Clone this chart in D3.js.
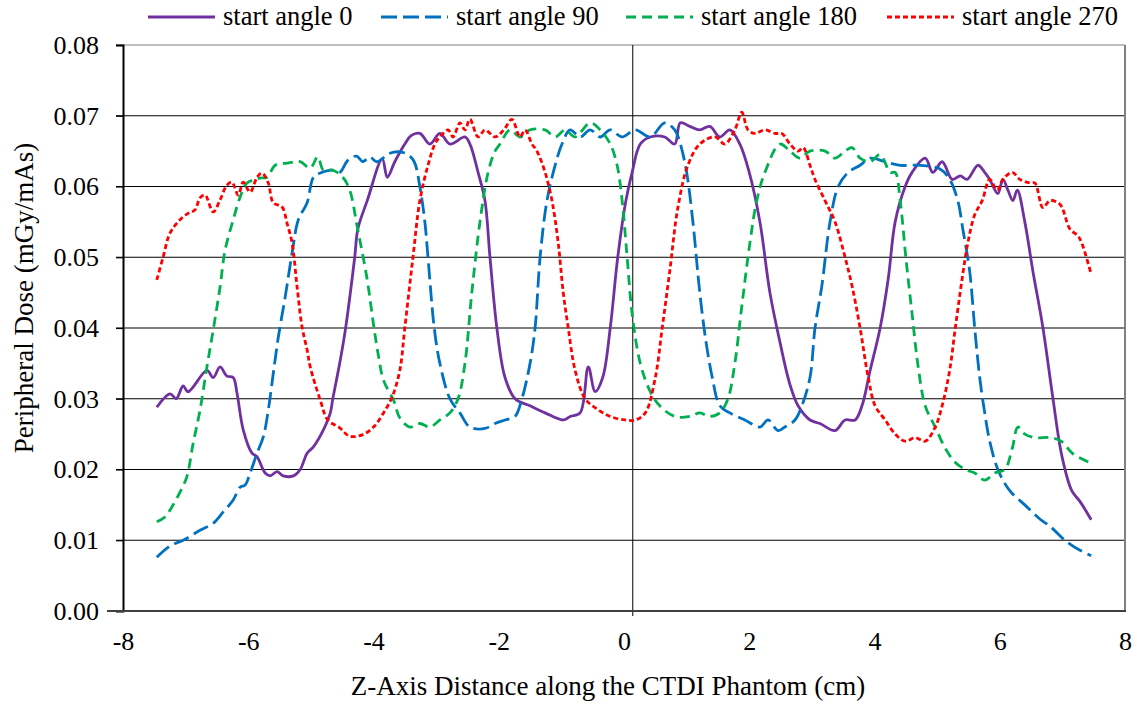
<!DOCTYPE html>
<html><head><meta charset="utf-8">
<script src="https://cdn.jsdelivr.net/npm/d3@7"></script>
<style>
html,body{margin:0;padding:0;background:#fff;}
</style></head>
<body><svg id="c" width="1136" height="704"></svg>
<script>
// ---- data ----
const seriesNames = ["start angle 0", "start angle 90", "start angle 180", "start angle 270"];
const yTicks = [0, 0.01, 0.02, 0.03, 0.04, 0.05, 0.06, 0.07, 0.08];
const xTicks = [-8, -6, -4, -2, 0, 2, 4, 6, 8];

const angle0 = [[-7.46,0.0288],[-7.25,0.0307],[-7.15,0.030],[-7.04,0.0318],[-6.96,0.031],[-6.66,0.034],[-6.56,0.033],[-6.45,0.0345],[-6.34,0.0332],[-6.24,0.033],[-6.18,0.0308],[-6.08,0.0256],[-5.94,0.0223],[-5.86,0.0218],[-5.73,0.0195],[-5.65,0.0191],[-5.54,0.0197],[-5.44,0.0191],[-5.28,0.0191],[-5.17,0.020],[-5.06,0.0223],[-4.96,0.0232],[-4.8,0.0256],[-4.69,0.028],[-4.65,0.030],[-4.54,0.035],[-4.45,0.0397],[-4.3,0.050],[-4.25,0.054],[-4.1,0.058],[-3.86,0.0639],[-3.78,0.0613],[-3.66,0.0635],[-3.5,0.066],[-3.4,0.0672],[-3.26,0.0675],[-3.1,0.066],[-2.94,0.0675],[-2.78,0.066],[-2.54,0.067],[-2.46,0.066],[-2.33,0.062],[-2.22,0.058],[-2.14,0.050],[-2.03,0.040],[-1.9,0.033],[-1.74,0.030],[-1.5,0.029],[-1.26,0.028],[-0.97,0.027],[-0.86,0.0275],[-0.7,0.028],[-0.57,0.0345],[-0.46,0.031],[-0.34,0.033],[-0.22,0.040],[-0.1,0.050],[0.03,0.058],[0.13,0.062],[0.26,0.066],[0.42,0.067],[0.65,0.067],[0.81,0.066],[0.9,0.069],[1.05,0.0685],[1.21,0.068],[1.37,0.0685],[1.53,0.067],[1.69,0.068],[1.85,0.066],[2.0,0.062],[2.17,0.055],[2.33,0.045],[2.49,0.038],[2.65,0.032],[2.78,0.029],[2.97,0.027],[3.13,0.0265],[3.37,0.0255],[3.53,0.027],[3.69,0.027],[3.8,0.029],[3.93,0.034],[4.09,0.040],[4.22,0.047],[4.33,0.055],[4.49,0.060],[4.6,0.062],[4.81,0.064],[4.93,0.062],[5.08,0.0635],[5.24,0.061],[5.37,0.0615],[5.48,0.061],[5.65,0.063],[5.76,0.062],[5.84,0.061],[5.97,0.059],[6.05,0.061],[6.13,0.0595],[6.21,0.058],[6.28,0.0595],[6.4,0.055],[6.53,0.048],[6.69,0.040],[6.85,0.030],[6.99,0.022],[7.15,0.017],[7.28,0.0155],[7.46,0.0129]];

const angle90 = [[-7.46,0.0076],[-7.25,0.0092],[-7.04,0.010],[-6.77,0.0114],[-6.56,0.0124],[-6.4,0.014],[-6.24,0.0157],[-6.13,0.0175],[-6.05,0.0178],[-5.97,0.0195],[-5.86,0.0223],[-5.76,0.0246],[-5.68,0.0284],[-5.6,0.0336],[-5.52,0.0387],[-5.41,0.0444],[-5.3,0.0506],[-5.2,0.0553],[-5.06,0.0577],[-4.96,0.0613],[-4.85,0.0619],[-4.65,0.0623],[-4.54,0.062],[-4.41,0.0637],[-4.27,0.0643],[-4.17,0.0635],[-4.06,0.0642],[-3.95,0.0635],[-3.74,0.0647],[-3.58,0.0649],[-3.45,0.0645],[-3.35,0.0635],[-3.26,0.060],[-3.18,0.055],[-3.13,0.050],[-3.03,0.040],[-2.94,0.035],[-2.78,0.030],[-2.62,0.028],[-2.46,0.026],[-2.22,0.0258],[-2.06,0.0265],[-1.9,0.027],[-1.74,0.0275],[-1.63,0.030],[-1.5,0.035],[-1.42,0.040],[-1.34,0.050],[-1.23,0.058],[-1.1,0.063],[-0.99,0.066],[-0.86,0.068],[-0.7,0.067],[-0.54,0.068],[-0.38,0.067],[-0.22,0.068],[-0.03,0.067],[0.18,0.068],[0.42,0.067],[0.65,0.069],[0.81,0.068],[0.9,0.066],[1.0,0.062],[1.1,0.055],[1.21,0.045],[1.31,0.038],[1.41,0.033],[1.53,0.029],[1.69,0.028],[1.93,0.027],[2.17,0.026],[2.3,0.027],[2.46,0.0255],[2.57,0.026],[2.73,0.027],[2.84,0.029],[2.97,0.033],[3.05,0.040],[3.16,0.046],[3.29,0.055],[3.42,0.060],[3.58,0.062],[3.77,0.063],[3.93,0.064],[4.17,0.0635],[4.41,0.063],[4.73,0.063],[5.04,0.0625],[5.2,0.061],[5.33,0.058],[5.41,0.054],[5.52,0.048],[5.6,0.040],[5.68,0.033],[5.76,0.028],[5.84,0.024],[5.97,0.020],[6.16,0.017],[6.4,0.015],[6.64,0.013],[6.8,0.012],[7.04,0.010],[7.2,0.009],[7.46,0.0078]];

const angle180 = [[-7.46,0.0126],[-7.33,0.0133],[-7.22,0.0147],[-7.09,0.0168],[-6.98,0.019],[-6.88,0.0237],[-6.77,0.0284],[-6.66,0.0345],[-6.56,0.0397],[-6.45,0.0458],[-6.37,0.051],[-6.24,0.0553],[-6.13,0.0585],[-6.02,0.0605],[-5.92,0.0609],[-5.81,0.0612],[-5.7,0.0613],[-5.57,0.063],[-5.38,0.0633],[-5.17,0.0635],[-5.01,0.0626],[-4.89,0.0642],[-4.8,0.0623],[-4.65,0.0623],[-4.49,0.0613],[-4.38,0.0595],[-4.26,0.0543],[-4.1,0.0468],[-4.0,0.0405],[-3.92,0.036],[-3.84,0.0326],[-3.68,0.0298],[-3.58,0.0273],[-3.42,0.026],[-3.26,0.0265],[-3.1,0.026],[-2.94,0.027],[-2.78,0.028],[-2.65,0.030],[-2.54,0.035],[-2.43,0.045],[-2.3,0.055],[-2.17,0.062],[-2.06,0.065],[-1.98,0.066],[-1.82,0.068],[-1.66,0.067],[-1.5,0.068],[-1.26,0.068],[-1.1,0.067],[-0.94,0.068],[-0.78,0.067],[-0.54,0.069],[-0.38,0.068],[-0.22,0.066],[-0.11,0.063],[-0.03,0.058],[0.05,0.050],[0.13,0.042],[0.26,0.035],[0.42,0.031],[0.57,0.029],[0.81,0.0275],[1.05,0.0275],[1.21,0.028],[1.37,0.0275],[1.53,0.028],[1.66,0.030],[1.77,0.035],[1.88,0.043],[2.01,0.052],[2.12,0.058],[2.25,0.062],[2.49,0.066],[2.65,0.065],[2.81,0.064],[2.97,0.065],[3.21,0.065],[3.37,0.064],[3.53,0.065],[3.64,0.0655],[3.77,0.064],[3.93,0.0635],[4.09,0.0645],[4.25,0.062],[4.33,0.062],[4.41,0.058],[4.5,0.050],[4.6,0.042],[4.69,0.035],[4.81,0.029],[4.97,0.026],[5.13,0.023],[5.29,0.021],[5.45,0.020],[5.6,0.0195],[5.76,0.0185],[5.92,0.0195],[6.08,0.020],[6.2,0.023],[6.29,0.026],[6.4,0.025],[6.56,0.0245],[6.8,0.0245],[6.98,0.024],[7.17,0.0222],[7.46,0.0209]];

const angle270 = [[-7.46,0.0468],[-7.36,0.050],[-7.25,0.0534],[-7.09,0.0553],[-6.96,0.0562],[-6.85,0.0567],[-6.77,0.0584],[-6.69,0.0588],[-6.56,0.0564],[-6.45,0.0581],[-6.34,0.0602],[-6.26,0.0606],[-6.16,0.0588],[-6.08,0.0606],[-5.97,0.0592],[-5.86,0.0613],[-5.78,0.0619],[-5.68,0.0605],[-5.6,0.0577],[-5.46,0.0571],[-5.38,0.0548],[-5.3,0.052],[-5.22,0.0458],[-5.14,0.0401],[-5.06,0.0369],[-5.01,0.0345],[-4.85,0.0298],[-4.73,0.027],[-4.54,0.0259],[-4.38,0.0247],[-4.18,0.0249],[-4.0,0.026],[-3.84,0.028],[-3.7,0.0303],[-3.58,0.034],[-3.5,0.040],[-3.37,0.050],[-3.26,0.058],[-3.13,0.063],[-3.02,0.066],[-2.94,0.067],[-2.81,0.068],[-2.73,0.067],[-2.62,0.069],[-2.54,0.068],[-2.46,0.0695],[-2.33,0.067],[-2.22,0.068],[-2.06,0.067],[-1.92,0.068],[-1.79,0.0695],[-1.66,0.067],[-1.58,0.068],[-1.47,0.066],[-1.39,0.065],[-1.26,0.062],[-1.15,0.058],[-1.05,0.052],[-0.97,0.045],[-0.89,0.040],[-0.78,0.034],[-0.62,0.030],[-0.42,0.0285],[-0.22,0.0275],[0.02,0.027],[0.18,0.027],[0.34,0.028],[0.5,0.033],[0.61,0.040],[0.73,0.048],[0.86,0.057],[1.02,0.063],[1.21,0.066],[1.45,0.067],[1.61,0.066],[1.77,0.068],[1.88,0.0705],[1.98,0.068],[2.09,0.0675],[2.25,0.068],[2.41,0.0675],[2.52,0.0675],[2.65,0.066],[2.78,0.065],[2.86,0.0655],[2.97,0.063],[3.05,0.061],[3.21,0.058],[3.37,0.055],[3.53,0.050],[3.64,0.046],[3.77,0.040],[3.9,0.033],[4.01,0.029],[4.17,0.027],[4.33,0.025],[4.49,0.024],[4.65,0.0245],[4.81,0.024],[4.97,0.026],[5.08,0.029],[5.2,0.034],[5.29,0.040],[5.4,0.047],[5.49,0.052],[5.6,0.056],[5.72,0.058],[5.84,0.061],[5.96,0.0595],[6.05,0.061],[6.2,0.062],[6.32,0.061],[6.48,0.0605],[6.56,0.0605],[6.69,0.057],[6.8,0.058],[6.96,0.0575],[7.12,0.054],[7.25,0.053],[7.31,0.052],[7.46,0.0476]];

const refLineX = 0.14; // vertical reference line position

// ---- styling ----
const FONT = "'Liberation Serif', 'Times New Roman', Tinos, 'DejaVu Serif', serif";
const colors = ["#7030A0", "#0070C0", "#00B050", "#FF0000"];
const dashes = [null, "16,6", "10,6", "5,3"];
const allSeries = [angle0, angle90, angle180, angle270];

const svg = d3.select("#c").style("font-family", FONT);
const L = 123, R = 1125, T = 45, B = 611;
const x = d3.scaleLinear().domain([-8, 8]).range([L, R]);
const y = d3.scaleLinear().domain([0, 0.08]).range([B, T]);

// gridlines
svg.append("g").selectAll("line").data(yTicks.filter(d => d > 0)).join("line")
  .attr("x1", L - 7).attr("x2", R).attr("y1", d => y(d)).attr("y2", d => y(d))
  .attr("stroke", d => d === 0.08 ? "#808080" : "#000").attr("stroke-width", 1.2);

// right border
svg.append("line").attr("x1", R).attr("x2", R).attr("y1", T).attr("y2", B)
  .attr("stroke", "#808080").attr("stroke-width", 2);

// vertical reference line
svg.append("line").attr("x1", x(refLineX)).attr("x2", x(refLineX)).attr("y1", T).attr("y2", B + 5)
  .attr("stroke", "#000").attr("stroke-width", 1);

// y axis
const yAxis = d3.axisLeft(y).tickValues(yTicks).tickFormat(d3.format(".2f")).tickSize(7).tickPadding(17);
const gy = svg.append("g").attr("transform", `translate(${L},0)`).call(yAxis);
gy.attr("font-family", null).attr("font-size", null);
gy.select(".domain").attr("stroke", "#000").attr("stroke-width", 2);
gy.selectAll(".tick line").attr("stroke", "#000").attr("stroke-width", 1.2);
gy.selectAll("text").style("font-size", "26px").style("font-family", FONT).attr("fill", "#000");

// x axis
const xAxis = d3.axisBottom(x).tickValues(xTicks).tickFormat(d => String(d)).tickSize(0).tickPadding(21);
const gx = svg.append("g").attr("transform", `translate(0,${B})`).call(xAxis);
gx.attr("font-family", null).attr("font-size", null);
gx.select(".domain").remove();
gx.selectAll("text").style("font-size", "26px").style("font-family", FONT).attr("fill", "#000");
svg.append("line").attr("x1", L - 16).attr("x2", R + 1).attr("y1", B).attr("y2", B)
  .attr("stroke", "#404040").attr("stroke-width", 2.2);

// series
const line = d3.line().x(d => x(d[0])).y(d => y(d[1])).curve(d3.curveCatmullRom.alpha(0.5));
svg.append("g").selectAll("path").data(allSeries).join("path")
  .attr("d", d => line(d)).attr("fill", "none")
  .attr("stroke", (d, i) => colors[i]).attr("stroke-width", 2.8)
  .attr("stroke-dasharray", (d, i) => dashes[i]).attr("stroke-linejoin", "round");

// axis titles
svg.append("text").attr("x", 608).attr("y", 695).attr("text-anchor", "middle")
  .style("font-family", FONT).style("font-size", "27px").text("Z-Axis Distance along the CTDI Phantom (cm)");
svg.append("text").attr("transform", "translate(33,298) rotate(-90)").attr("text-anchor", "middle")
  .style("font-family", FONT).style("font-size", "27px").text("Peripheral Dose (mGy/mAs)");

// legend
const legX = [148, 381, 626, 887];
const legLen = 67;
const leg = svg.append("g");
seriesNames.forEach((n, i) => {
  leg.append("line").attr("x1", legX[i]).attr("x2", legX[i] + legLen).attr("y1", 17).attr("y2", 17)
    .attr("stroke", colors[i]).attr("stroke-width", 2.8).attr("stroke-dasharray", dashes[i]);
  leg.append("text").attr("x", legX[i] + legLen + 8).attr("y", 25)
    .style("font-family", FONT).style("font-size", "26.5px").text(n);
});
</script></body></html>
